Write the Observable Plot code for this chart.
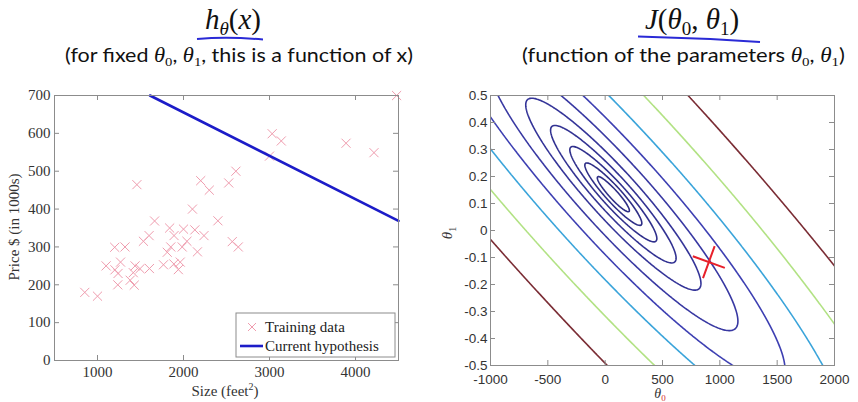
<!DOCTYPE html>
<html><head><meta charset="utf-8">
<script src="https://cdn.jsdelivr.net/npm/d3@7"></script>
<script src="https://cdn.jsdelivr.net/npm/@observablehq/plot@0.6"></script>
<style>
html,body{margin:0;padding:0;background:#fff;}
#root{position:relative;width:858px;height:402px;overflow:hidden;background:#fff;}
#left{position:absolute;left:0;top:80px;}
#right{position:absolute;left:430px;top:80px;}
#overlay{position:absolute;left:0;top:0;}
</style></head><body>
<div id="root"><div id="left"></div><div id="right"></div>
<svg id="overlay" width="858" height="402" xmlns="http://www.w3.org/2000/svg"></svg></div>
<script>
// ---- Left panel data: house size (feet^2) and price ($1000s) ----
const sizes = [2104,1600,2400,1416,3000,1985,1534,1427,1380,1494,1940,2000,1890,4478,1268,2300,1320,1236,2609,3031,1767,1888,1604,1962,3890,1100,1458,2526,2200,2637,1839,1000,2040,3137,1811,1437,1239,2132,4215,2162,1664,2238,2567,1200,852,1852,1203];
const prices = [399.9,329.9,369,232,539.9,299.9,314.9,199,212,242.5,240,347,330,699.9,259.9,449.9,299.9,199.9,500,599,252.9,255,242.9,259.9,573.9,249.9,464.5,469,475,299.9,349.9,169.9,314.9,579.9,285.9,249.9,229.9,345,549,287,368.5,329.9,314,299,179.9,299.9,239.5];
// current hypothesis line (read at its ends)
const hypSize = [1610, 4500];
const hypPrice = [700, 369];
const leftXDomain = [500, 4500];
const leftYDomain = [0, 700];
const leftXTicks = [1000, 2000, 3000, 4000];
const leftYTicks = [0, 100, 200, 300, 400, 500, 600, 700];

// ---- Right panel: contour of J(theta0, theta1) ----
const theta0Domain = [-1000, 2000];
const theta1Domain = [-0.5, 0.5];
const theta0Ticks = [-1000, -500, 0, 500, 1000, 1500, 2000];
const theta1Ticks = [-0.5, -0.4, -0.3, -0.2, -0.1, 0, 0.1, 0.2, 0.3, 0.4, 0.5];
const contourLevels = [3380, 6200, 11700, 22100, 41100, 81000, 152000, 282000, 540000, 1000000];
const contourColors = ["#2e2e86","#2e2e86","#30308c","#323292","#343498","#3838a2","#3d3fb2","#3aa4da","#b2e284","#7a2c34"];
const currentTheta = [{theta0: 904, theta1: -0.117}];

const m = sizes.length;
function J(t0, t1) {
  let s = 0;
  for (let i = 0; i < m; i++) { const r = t0 + t1 * sizes[i] - prices[i]; s += r * r; }
  return s / (2 * m);
}

const axisGray = "#8c8c8c";
const tickLen = 5;

// Left plot
const LW = 420, LH = 322, LmL = 54, LmR = 22, LmT = 15, LmB = 42;
const LinnerH = LH - LmT - LmB, LinnerW = LW - LmL - LmR;
const hyp = hypSize.map((s, i) => ({size: s, price: hypPrice[i]}));
const pts = sizes.map((s, i) => ({size: s, price: prices[i]}));
const left = Plot.plot({
  width: LW, height: LH,
  marginLeft: LmL, marginRight: LmR, marginTop: LmT, marginBottom: LmB,
  style: {fontFamily: "Liberation Serif", fontSize: "15px", color: "#333", background: "#fff"},
  x: {domain: leftXDomain},
  y: {domain: leftYDomain},
  marks: [
    Plot.dot(pts, {x: "size", y: "price", symbol: "times", r: 4.2, stroke: "#ef9cae", strokeWidth: 1}),
    Plot.line(hyp, {x: "size", y: "price", stroke: "#1c1cc8", strokeWidth: 2.6}),
    Plot.tickX(leftXTicks, {x: d => d, insetTop: LinnerH - tickLen, stroke: axisGray}),
    Plot.tickX(leftXTicks, {x: d => d, insetBottom: LinnerH - tickLen, stroke: axisGray}),
    Plot.tickY(leftYTicks, {y: d => d, insetRight: LinnerW - tickLen, stroke: axisGray}),
    Plot.tickY(leftYTicks, {y: d => d, insetLeft: LinnerW - tickLen, stroke: axisGray}),
    Plot.axisX(leftXTicks, {anchor: "bottom", tickSize: 0, tickPadding: 6, label: null, fill: "#333", tickFormat: d => String(d)}),
    Plot.axisY(leftYTicks, {anchor: "left", tickSize: 0, tickPadding: 4, label: null, fill: "#333", tickFormat: d => String(d)}),
    Plot.frame({stroke: axisGray})
  ]
});
document.getElementById("left").appendChild(left);

// Right plot
const RW = 428, RH = 322, RmL = 60, RmR = 24, RmT = 15, RmB = 37;
const RinnerH = RH - RmT - RmB, RinnerW = RW - RmL - RmR;
// sample slightly beyond the frame so the contour rings' closing edges fall outside, then clip
const padX = 0.04 * (theta0Domain[1] - theta0Domain[0]);
const padY = 0.04 * (theta1Domain[1] - theta1Domain[0]);
const contourMarks = contourLevels.map((L, i) => Plot.contour({
  value: (a, b) => J(a, b),
  x1: theta0Domain[0] - padX, x2: theta0Domain[1] + padX,
  y1: theta1Domain[0] - padY, y2: theta1Domain[1] + padY,
  thresholds: [L], fill: "none", stroke: contourColors[i], strokeWidth: 1.6, pixelSize: 1, clip: true
}));
const right = Plot.plot({
  width: RW, height: RH,
  marginLeft: RmL, marginRight: RmR, marginTop: RmT, marginBottom: RmB,
  style: {fontFamily: "Liberation Sans", fontSize: "13.5px", color: "#333", background: "#fff"},
  x: {domain: theta0Domain},
  y: {domain: theta1Domain},
  marks: [
    ...contourMarks,
    Plot.dot(currentTheta, {x: "theta0", y: "theta1", symbol: "times", r: 11, rotate: -25, stroke: "#e8202a", strokeWidth: 2}),
    Plot.tickX(theta0Ticks, {x: d => d, insetTop: RinnerH - tickLen, stroke: axisGray}),
    Plot.tickX(theta0Ticks, {x: d => d, insetBottom: RinnerH - tickLen, stroke: axisGray}),
    Plot.tickY(theta1Ticks, {y: d => d, insetRight: RinnerW - tickLen, stroke: axisGray}),
    Plot.tickY(theta1Ticks, {y: d => d, insetLeft: RinnerW - tickLen, stroke: axisGray}),
    Plot.axisX(theta0Ticks, {anchor: "bottom", tickSize: 0, tickPadding: 9, label: null, fill: "#333", tickFormat: d => String(d)}),
    Plot.axisY(theta1Ticks, {anchor: "left", tickSize: 0, tickPadding: 3, label: null, fill: "#333", tickFormat: d => String(d)}),
    Plot.frame({stroke: axisGray})
  ]
});
document.getElementById("right").appendChild(right);

// Overlay: titles, axis labels, legend
const ov = d3.select("#overlay");
const serif = "Liberation Serif";
// left title h_theta(x)
const t1 = ov.append("text").attr("x", 233).attr("y", 29).attr("text-anchor", "middle")
  .attr("font-family", serif).attr("font-size", 29).attr("fill", "#111");
t1.append("tspan").attr("font-style", "italic").text("h");
t1.append("tspan").attr("font-style", "italic").attr("font-size", 19).attr("dy", 6).text("θ");
t1.append("tspan").attr("dy", -6).text("(");
t1.append("tspan").attr("font-style", "italic").text("x");
t1.append("tspan").text(")");
ov.append("path").attr("d", "M197,39 Q228,36.5 263,39.5").attr("fill", "none").attr("stroke", "#2a2ad6").attr("stroke-width", 2);
// right title J(theta0, theta1)
const t2 = ov.append("text").attr("x", 692).attr("y", 29).attr("text-anchor", "middle")
  .attr("font-family", serif).attr("font-size", 29).attr("fill", "#111");
t2.append("tspan").attr("font-style", "italic").text("J");
t2.append("tspan").text("(");
t2.append("tspan").attr("font-style", "italic").text("θ");
t2.append("tspan").attr("font-size", 19).attr("dy", 6).text("0");
t2.append("tspan").attr("dy", -6).text(", ");
t2.append("tspan").attr("font-style", "italic").text("θ");
t2.append("tspan").attr("font-size", 19).attr("dy", 6).text("1");
t2.append("tspan").attr("dy", -6).text(")");
ov.append("path").attr("d", "M638,36.5 Q700,38 760,42").attr("fill", "none").attr("stroke", "#2a2ad6").attr("stroke-width", 2);

function subtitle(x, len, parts) {
  const t = ov.append("text").attr("x", x).attr("y", 62).attr("font-family", "Lato").attr("font-size", 19)
    .attr("fill", "#111").attr("textLength", len).attr("lengthAdjust", "spacingAndGlyphs");
  for (const p of parts) {
    const s = t.append("tspan").text(p.t);
    if (p.th) s.attr("font-family", serif).attr("font-style", "italic").attr("font-size", 20);
    if (p.sub) s.attr("font-family", serif).attr("font-size", 13).attr("dy", 4);
    if (p.up) s.attr("dy", -4);
  }
}
subtitle(65, 348, [{t: "(for fixed "}, {t: "θ", th: 1}, {t: "0", sub: 1}, {t: ", ", up: 1}, {t: "θ", th: 1}, {t: "1", sub: 1}, {t: ", this is a function of x)", up: 1}]);
subtitle(522, 323, [{t: "(function of the parameters  "}, {t: "θ", th: 1}, {t: "0", sub: 1}, {t: ", ", up: 1}, {t: "θ", th: 1}, {t: "1", sub: 1}, {t: ")", up: 1}]);

// left axis labels
ov.append("text").attr("transform", "translate(19,227) rotate(-90)").attr("text-anchor", "middle")
  .attr("font-family", serif).attr("font-size", 15).attr("fill", "#333").text("Price $ (in 1000s)");
const xl = ov.append("text").attr("x", 225).attr("y", 396).attr("text-anchor", "middle")
  .attr("font-family", serif).attr("font-size", 15).attr("fill", "#333");
xl.append("tspan").text("Size (feet");
xl.append("tspan").attr("font-size", 10).attr("dy", -6).text("2");
xl.append("tspan").attr("dy", 6).text(")");

// right axis labels
const yl = ov.append("text").attr("transform", "translate(452,233) rotate(-90)").attr("text-anchor", "middle")
  .attr("font-family", serif).attr("font-size", 15).attr("fill", "#333");
yl.append("tspan").attr("font-style", "italic").text("θ");
yl.append("tspan").attr("font-size", 10).attr("dy", 4).text("1");
const xl2 = ov.append("text").attr("x", 660).attr("y", 398).attr("text-anchor", "middle")
  .attr("font-family", serif).attr("font-size", 14).attr("fill", "#333");
xl2.append("tspan").attr("font-style", "italic").text("θ");
xl2.append("tspan").attr("font-size", 9).attr("dy", 3).attr("fill", "#d23030").text("0");

// legend
const lg = ov.append("g");
lg.append("rect").attr("x", 236).attr("y", 313).attr("width", 159).attr("height", 44).attr("fill", "#fff").attr("stroke", axisGray);
lg.append("path").attr("d", "M248,323 l8,8 M256,323 l-8,8").attr("stroke", "#ef9cae").attr("stroke-width", 1);
lg.append("text").attr("x", 265).attr("y", 332).attr("font-family", serif).attr("font-size", 15).attr("fill", "#222").text("Training data");
lg.append("line").attr("x1", 240).attr("x2", 263).attr("y1", 346).attr("y2", 346).attr("stroke", "#1c1cc8").attr("stroke-width", 2.6);
lg.append("text").attr("x", 265).attr("y", 351).attr("font-family", serif).attr("font-size", 15).attr("fill", "#222").text("Current hypothesis");
</script>
</body></html>
